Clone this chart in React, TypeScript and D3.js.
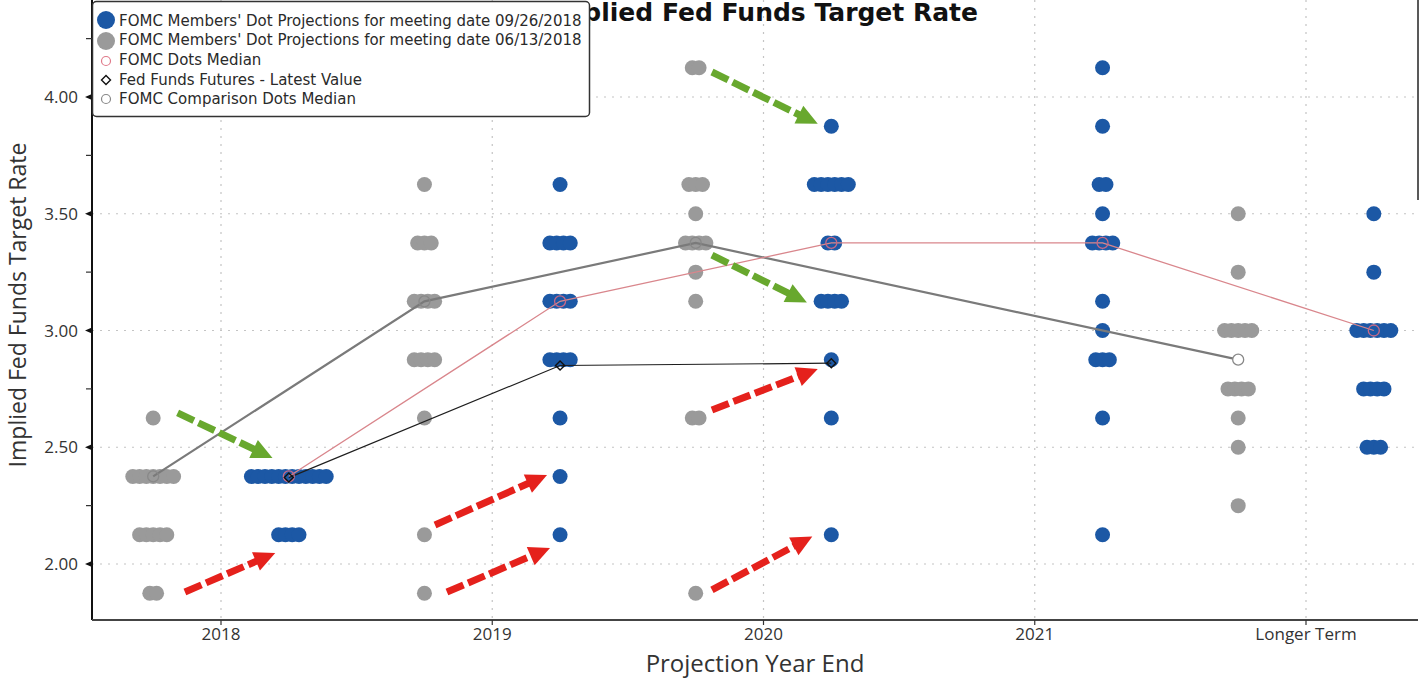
import React from 'react'
import * as d3 from 'd3'

// categories on the x axis
const categories = ['2018', '2019', '2020', '2021', 'Longer Term']

// [rate, number of participants] per category, 09/26/2018 meeting
const septDots: [number, number][][] = [
  [[2.375, 12], [2.125, 4]],
  [[3.625, 1], [3.375, 4], [3.125, 4], [2.875, 4], [2.625, 1], [2.375, 1], [2.125, 1]],
  [[3.875, 1], [3.625, 6], [3.375, 2], [3.125, 4], [2.875, 1], [2.625, 1], [2.125, 1]],
  [[4.125, 1], [3.875, 1], [3.625, 2], [3.5, 1], [3.375, 4], [3.125, 1], [3.0, 1], [2.875, 3], [2.625, 1], [2.125, 1]],
  [[3.5, 1], [3.25, 1], [3.0, 6], [2.75, 4], [2.5, 3]],
]

// 06/13/2018 meeting
const juneDots: [number, number][][] = [
  [[2.625, 1], [2.375, 7], [2.125, 5], [1.875, 2]],
  [[3.625, 1], [3.375, 3], [3.125, 4], [2.875, 4], [2.625, 1], [2.125, 1], [1.875, 1]],
  [[4.125, 2], [3.625, 3], [3.5, 1], [3.375, 4], [3.25, 1], [3.125, 1], [2.625, 2], [1.875, 1]],
  [],
  [[3.5, 1], [3.25, 1], [3.0, 5], [2.75, 4], [2.625, 1], [2.5, 1], [2.25, 1]],
]

const septMedian = [2.375, 3.125, 3.375, 3.375, 3.0]
const juneMedian: (number | null)[] = [2.375, 3.125, 3.375, null, 2.875]
const futures = [2.37, 2.85, 2.86]

const yTicks = [2.0, 2.5, 3.0, 3.5, 4.0]
const yMinorTicks = [2.25, 2.75, 3.25, 3.75, 4.25]

// annotation arrows: [category from, rate from, category to, rate to]
const greenArrows = [
  [-0.16, 2.647, 0.19, 2.454],
  [1.81, 4.107, 2.2, 3.885],
  [1.81, 3.323, 2.16, 3.12],
]
const redArrows = [
  [-0.133, 1.88, 0.2, 2.047],
  [0.789, 2.167, 1.202, 2.381],
  [0.833, 1.88, 1.213, 2.069],
  [1.81, 2.66, 2.2, 2.835],
  [1.81, 1.889, 2.18, 2.118],
]

const legendItems = [
  "FOMC Members' Dot Projections for meeting date 09/26/2018",
  "FOMC Members' Dot Projections for meeting date 06/13/2018",
  'FOMC Dots Median',
  'Fed Funds Futures - Latest Value',
  'FOMC Comparison Dots Median',
]

const W = 1420
const H = 678
const left = 92
const right = 1418
const bottom = 620

const blue = '#1c58a5'
const gray = '#9a9a9a'

const x = d3.scaleLinear().domain([0, 4]).range([221, 1306])
const y = d3.scaleLinear().domain([2, 4]).range([564, 97])

const spacing = 6.8
const r = 7.5

function Dots({ data, shift, color }: { data: [number, number][][]; shift: number; color: string }) {
  return (
    <g>
      {data.map((cat, i) =>
        cat.map(([v, n]) =>
          d3.range(n).map(k => (
            <circle
              key={`${i}-${v}-${k}`}
              cx={x(i + shift) + (k - (n - 1) / 2) * spacing}
              cy={y(v)}
              r={r}
              fill={color}
            />
          ))
        )
      )}
    </g>
  )
}

function Arrow({ a, color }: { a: number[]; color: string }) {
  const x0 = x(a[0])
  const y0 = y(a[1])
  const x1 = x(a[2])
  const y1 = y(a[3])
  const len = Math.hypot(x1 - x0, y1 - y0)
  const ux = (x1 - x0) / len
  const uy = (y1 - y0) / len
  const hl = 21
  const hw = 10
  const bx = x1 - ux * hl
  const by = y1 - uy * hl
  const head = `${x1},${y1} ${bx - uy * hw},${by + ux * hw} ${bx + uy * hw},${by - ux * hw}`
  return (
    <g>
      <line x1={x0} y1={y0} x2={bx + ux * 2} y2={by + uy * 2} stroke={color} strokeWidth={7} strokeDasharray="18,5" />
      <polygon points={head} fill={color} />
    </g>
  )
}

export default function App() {
  const septLine = d3.line<number>().x((_, i) => x(i + 0.25)).y(d => y(d))(septMedian) || ''
  // the comparison line skips 2021 and joins 2020 straight to longer term
  const junePts = juneMedian
    .map((d, i) => (d === null ? null : ([x(i - 0.25), y(d)] as [number, number])))
    .filter(p => p !== null) as [number, number][]
  const juneLine = d3.line()(junePts) || ''
  const futLine = d3.line<number>().x((_, i) => x(i + 0.25)).y(d => y(d))(futures) || ''

  const axisFont = "'Open Sans', 'DejaVu Sans', sans-serif"
  const narrow = "'Liberation Sans Narrow', 'Open Sans', sans-serif"

  return (
    <svg width={W} height={H} style={{ position: 'absolute', left: 0, top: 0, background: '#fff' }}>
      <rect width={W} height={H} fill="#fff" />

      {/* grid */}
      {yTicks.map(t => (
        <line key={t} x1={left} x2={right} y1={y(t)} y2={y(t)} stroke="#c4c4c4" strokeWidth={1.2} strokeDasharray="2,6" />
      ))}
      {categories.map((c, i) => (
        <line key={c} x1={x(i)} x2={x(i)} y1={0} y2={bottom} stroke="#c4c4c4" strokeWidth={1.2} strokeDasharray="2,6" />
      ))}

      {/* title (partly hidden by the legend) */}
      <text x={978} y={21} textAnchor="end" fontFamily="'DejaVu Sans', sans-serif" fontWeight="bold" fontSize={25} fill="#111">
        Implied Fed Funds Target Rate
      </text>

      <Dots data={juneDots} shift={-0.25} color={gray} />
      <Dots data={septDots} shift={0.25} color={blue} />

      {/* lines */}
      <path d={juneLine} fill="none" stroke="#7a7a7a" strokeWidth={2.2} />
      <path d={septLine} fill="none" stroke="#d9868c" strokeWidth={1.3} />
      <path d={futLine} fill="none" stroke="#1e1e1e" strokeWidth={1.2} />

      {septMedian.map((v, i) => (
        <circle key={i} cx={x(i + 0.25)} cy={y(v)} r={5.5} fill="none" stroke="#c76a88" strokeWidth={1.3} />
      ))}
      {juneMedian.map((v, i) => {
        if (v === null) return null
        const covered = juneDots[i].some(([d]) => d === v)
        return <circle key={i} cx={x(i - 0.25)} cy={y(v)} r={5.5} fill={covered ? 'none' : '#fff'} stroke="#888" strokeWidth={1.3} />
      })}
      {futures.map((v, i) => {
        const cx = x(i + 0.25)
        const cy = y(v)
        return <path key={i} d={`M${cx},${cy - 4.5}L${cx + 4.5},${cy}L${cx},${cy + 4.5}L${cx - 4.5},${cy}Z`} fill="none" stroke="#111" strokeWidth={1.4} />
      })}

      {/* annotation arrows */}
      {greenArrows.map((a, i) => (
        <Arrow key={`g${i}`} a={a} color="#68a82e" />
      ))}
      {redArrows.map((a, i) => (
        <Arrow key={`r${i}`} a={a} color="#e5211c" />
      ))}

      {/* axes */}
      <line x1={left} x2={left} y1={0} y2={bottom} stroke="#111" strokeWidth={2} />
      <line x1={left} x2={right} y1={bottom} y2={bottom} stroke="#444" strokeWidth={2} />
      <line x1={right} x2={right} y1={0} y2={200} stroke="#222" strokeWidth={1.5} />

      {yTicks.map(t => (
        <g key={t}>
          <path d={`M${left},${y(t) - 3}L${left - 7},${y(t)}L${left},${y(t) + 3}Z`} fill="#111" />
          <text x={left - 14} y={y(t) + 6} textAnchor="end" fontFamily={axisFont} fontSize={17} fill="#333">
            {t.toFixed(2)}
          </text>
        </g>
      ))}
      {yMinorTicks.map(t => (
        <line key={t} x1={left - 6} x2={left} y1={y(t)} y2={y(t)} stroke="#333" strokeWidth={1.2} />
      ))}
      {categories.map((c, i) => (
        <g key={c}>
          <line x1={x(i)} x2={x(i)} y1={bottom} y2={bottom + 5} stroke="#333" strokeWidth={1.2} />
          <text x={x(i)} y={bottom + 20} textAnchor="middle" fontFamily={narrow} fontSize={17} fill="#333">
            {c}
          </text>
        </g>
      ))}

      <text x={755} y={672} textAnchor="middle" fontFamily={narrow} fontSize={24} fill="#333">
        Projection Year End
      </text>
      <text
        transform="translate(26,305) rotate(-90)"
        textAnchor="middle"
        fontFamily={axisFont}
        fontSize={23}
        fill="#333"
      >
        Implied Fed Funds Target Rate
      </text>

      {/* legend */}
      <rect x={92.5} y={1.5} width={497} height={115} rx={4} fill="#fff" stroke="#333" strokeWidth={1.5} />
      <circle cx={106} cy={20} r={9} fill={blue} />
      <circle cx={106} cy={41} r={9} fill={gray} />
      <circle cx={106} cy={61} r={4.5} fill="none" stroke="#e07a8a" strokeWidth={1.2} />
      <path d="M106,75.5L110.5,80L106,84.5L101.5,80Z" fill="none" stroke="#111" strokeWidth={1.4} />
      <circle cx={106} cy={99} r={4.5} fill="none" stroke="#888" strokeWidth={1.2} />
      {legendItems.map((t, i) => (
        <text key={t} x={119} y={25.5 + i * 19.7} fontFamily="'DejaVu Sans', sans-serif" fontSize={15} fill="#2a2a2a">
          {t}
        </text>
      ))}
    </svg>
  )
}
